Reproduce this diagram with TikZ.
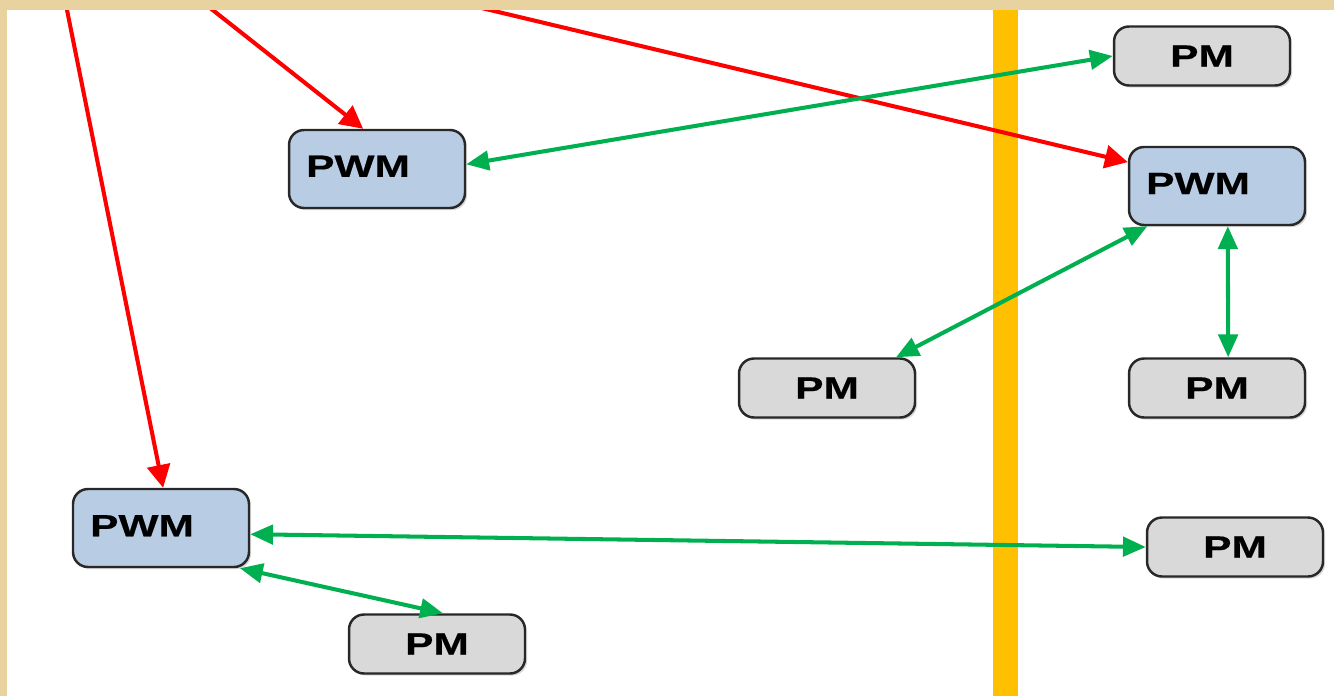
\documentclass[tikz,border=0pt]{standalone}
\usepackage{fontspec}
\usepackage{xcolor}
\usepackage{tikz}
\usetikzlibrary{shapes.geometric, arrows, arrows.meta, positioning, shadows, calc}
\newfontfamily\boxfont[FakeStretch=1.38, FakeBold=0.6]{Liberation Sans}
\definecolor{pwmblue}{RGB}{184, 204, 228}
\definecolor{pmgray}{RGB}{217, 217, 217}
\definecolor{edgegray}{RGB}{40, 40, 40}
\definecolor{linkred}{RGB}{255, 0, 0}
\definecolor{linkgreen}{RGB}{0, 176, 80}
\definecolor{barorange}{RGB}{255, 192, 0}
\definecolor{parchment}{RGB}{232, 211, 160}

\begin{document}
\begin{tikzpicture}[
        x=0.02cm, y=-0.02cm,
        module/.style={rectangle, draw=edgegray, line width=1.4pt, rounded corners=0.3cm, minimum width=3.52cm, align=center, font=\boxfont\bfseries\fontsize{17.5}{19}\selectfont, drop shadow={opacity=0.3, shadow xshift=1.2pt, shadow yshift=-1.2pt}},
        pwm/.style={module, fill=pwmblue, minimum height=1.56cm},
        pm/.style={module, fill=pmgray, minimum height=1.18cm},
        feed/.style={draw=linkred, line width=2.3pt, -{Triangle[length=13pt, width=13pt]}},
        link/.style={draw=linkgreen, line width=2.3pt, {Triangle[length=13pt, width=11pt]}-{Triangle[length=13pt, width=11pt]}}
    ]
        \useasboundingbox (0,0) rectangle (1334,696);
        \fill[white] (0,0) rectangle (1334,696);

        % Boundary
        \fill[barorange] (993,0) rectangle (1018,696);

        % PWM units
        \node[pwm] (pwmA) at (377,169) {\raisebox{0.11cm}{PWM}\hspace{0.76cm}};
        \node[pwm] (pwmB) at (1217,186) {\raisebox{0.1cm}{PWM}\hspace{0.76cm}};
        \node[pwm] (pwmC) at (161,528) {\raisebox{0.09cm}{PWM}\hspace{0.76cm}};

        % PM units
        \node[pm] (pmA) at (1202,56) {PM};
        \node[pm] (pmB) at (827,388) {PM};
        \node[pm] (pmC) at (1217,388) {PM};
        \node[pm] (pmD) at (1235,547) {PM};
        \node[pm] (pmE) at (437,644) {PM};

        % Incoming feeds
        \coordinate (topA) at (65,0);
        \coordinate (topB) at (200,0);
        \coordinate (topC) at (448,0);
        \draw[feed] (topA) -- (pwmC.87);
        \draw[feed] (topB) -- (pwmA.109);
        \draw[feed] (topC) -- (pwmB.165);

        % Links
        \draw[link] (pwmA.3) -- (pmA.west);
        \draw[link] (pwmB.210) -- (pmB.24);
        \draw[link] (pwmB.-75) -- (pmC.70);
        \draw[link] (pwmC.-4) -- (pmD.west);
        \draw[link] (pwmC.-27) -- (pmE.79);

        % Frame
        \fill[parchment] (0,0) rectangle (1334,10);
        \fill[parchment] (0,0) rectangle (7,696);
    \end{tikzpicture}
\end{document}
